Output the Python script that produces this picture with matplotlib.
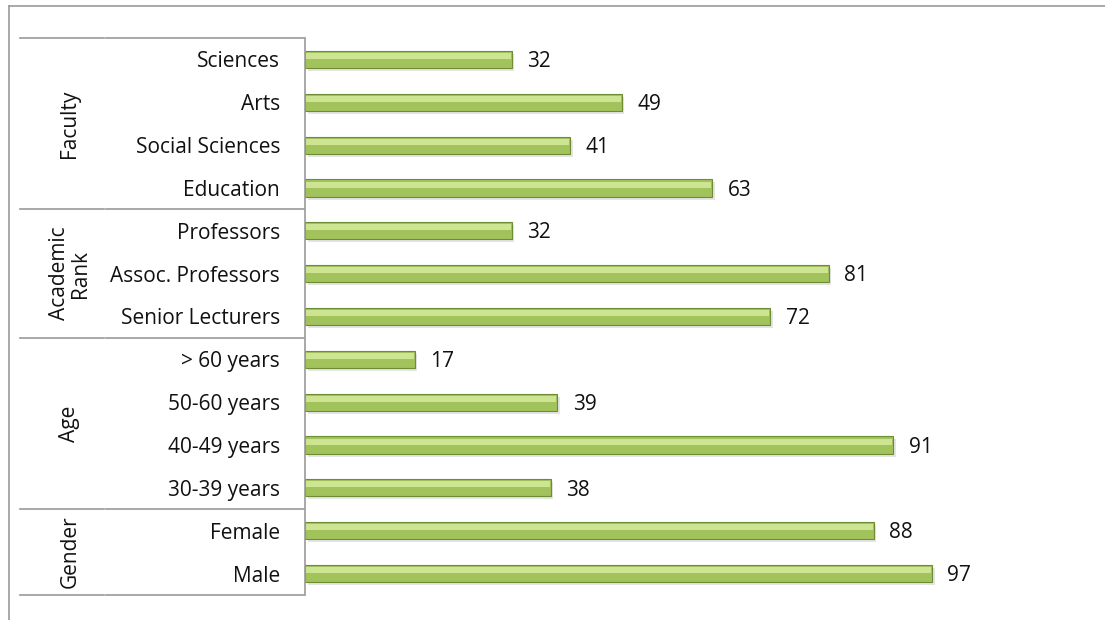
import matplotlib.pyplot as plt
from matplotlib.lines import Line2D

categories = ['Sciences', 'Arts', 'Social Sciences', 'Education',
              'Professors', 'Assoc. Professors', 'Senior Lecturers',
              '> 60 years', '50-60 years', '40-49 years', '30-39 years',
              'Female', 'Male']
values = [32, 49, 41, 63, 32, 81, 72, 17, 39, 91, 38, 88, 97]
groups = ['Faculty', 'Academic\nRank', 'Age', 'Gender']
group_sizes = [4, 3, 4, 2]

plt.rcParams['font.family'] = ['Open Sans', 'DejaVu Sans']

W, H = 1105, 620
fig = plt.figure(figsize=(W / 100, H / 100), dpi=100)
ax = fig.add_axes([305 / W, 1 - 595 / H, 711 / W, 557 / H])

ys = list(range(len(categories)))
bh = 0.4
# soft shadow
ax.barh([y + 0.07 for y in ys], values, height=bh, left=0.4, color='#e4e4e4', zorder=1)
# main bar
ax.barh(ys, values, height=bh, color='#a2c25c', edgecolor='#6e8c34', linewidth=0.8, zorder=2)
# upper highlight
ax.barh([y - bh * 0.2 for y in ys], [v - 0.3 for v in values], height=bh * 0.35,
        left=0.15, color='#cde593', linewidth=0, zorder=3)

for y, v in zip(ys, values):
    ax.text(v + 2.4, y + 0.05, str(v), va='center', ha='left', fontsize=15, color='#111111')

ax.set_xlim(0, 110)
ax.set_ylim(len(categories) - 0.5, -0.5)
ax.set_yticks(ys)
ax.set_yticklabels(categories, fontsize=15, color='#111111')
ax.tick_params(axis='y', length=0, pad=18)
ax.set_xticks([])
for s in ['top', 'right', 'bottom']:
    ax.spines[s].set_visible(False)
ax.spines['left'].set_color('#999999')
ax.spines['left'].set_linewidth(1.2)

# group dividers and labels (in pixel coords of the figure)
row_h = 557 / len(categories)
top = 38
line_kw = dict(color='#999999', linewidth=1.2, transform=fig.transFigure)
start = 0
edges = [top]
for g, n in zip(groups, group_sizes):
    y0 = top + start * row_h
    y1 = top + (start + n) * row_h
    edges.append(y1)
    fig.text(70 / W, 1 - (y0 + y1) / 2 / H, g, rotation=90, ha='center', va='center',
             fontsize=15, color='#111111', linespacing=1.05)
    start += n
for e in edges:
    fy = 1 - e / H
    fig.add_artist(Line2D([20 / W, 104 / W], [fy, fy], **line_kw))
    fig.add_artist(Line2D([106 / W, 304 / W], [fy, fy], **line_kw))

# outer frame (top and left edges)
fig.add_artist(Line2D([9 / W, 1], [1 - 6 / H, 1 - 6 / H], **line_kw))
fig.add_artist(Line2D([9 / W, 9 / W], [0, 1 - 6 / H], **line_kw))

fig.savefig('out.png', dpi=100)
